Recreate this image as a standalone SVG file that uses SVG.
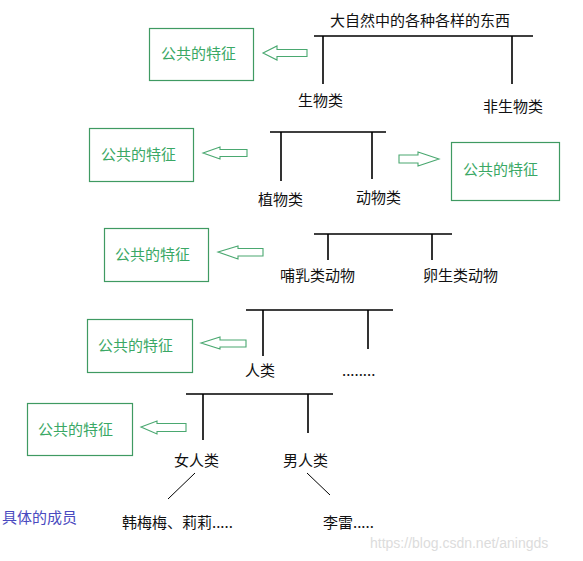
<svg xmlns="http://www.w3.org/2000/svg" width="583" height="561" viewBox="0 0 583 561">
<style>
text{font-family:"Noto Sans CJK SC","Noto Sans",sans-serif;font-size:15px;fill:#111}
.g{fill:#3aa865}
.box{fill:#fff;stroke:#3f9a62;stroke-width:1.2}
.arr{fill:#fff;stroke:#4aa870;stroke-width:1.1}
.ln{stroke:#000;stroke-width:1.6;fill:none}
.thin{stroke:#000;stroke-width:1;fill:none}
.blue{fill:#4a4ac0}
.wm{font-family:"Liberation Sans",Arial,sans-serif;font-size:14px;fill:#dcdcdc}
</style>
<rect width="583" height="561" fill="#fff"/>

<g id="connectors">
  <path class="ln" d="M314 36H533M323 36V84M512 36V84"/>
  <path class="ln" d="M270 132H386M281 132V181M372 132V179"/>
  <path class="ln" d="M314 234H452M328 234V260M432 234V260"/>
  <path class="ln" d="M246 310H393M263 310V356M368 310V349"/>
  <path class="ln" d="M186 394H333M203 394V440M308 394V433"/>
  <path class="thin" d="M195 473L168 499M307 473L330 495"/>
  <polygon class="arr" points="263,53 277,46 277,49.5 307,49.5 307,56.5 277,56.5 277,60"/>
  <polygon class="arr" points="203,153 220,147 220,149.5 247,149.5 247,156.5 220,156.5 220,159"/>
  <polygon class="arr" points="439,159 418,152 418,155 399,155 399,163 418,163 418,166"/>
  <polygon class="arr" points="218,252 238,246 238,248.5 263,248.5 263,256 238,256 238,259"/>
  <polygon class="arr" points="201,343 220,337 220,340 246,340 246,347 220,347 220,349"/>
  <polygon class="arr" points="141,427 157,421 157,423.5 186,423.5 186,431.5 157,431.5 157,434"/>
</g>

<g id="root"><text x="330" y="26">大自然中的各种各样的东西</text></g>
<g id="feat1"><rect class="box" x="149.5" y="28.5" width="104" height="52"/><text class="g" x="161" y="58.5">公共的特征</text></g>
<g id="living"><text x="298" y="106">生物类</text></g>
<g id="nonliving"><text x="483" y="112">非生物类</text></g>

<g id="feat2"><rect class="box" x="89.5" y="128.5" width="104" height="53"/><text class="g" x="101" y="159.5">公共的特征</text></g>
<g id="feat2b"><rect class="box" x="451.5" y="142.5" width="108" height="58"/><text class="g" x="463" y="174.5">公共的特征</text></g>
<g id="plants"><text x="258" y="204.5">植物类</text></g>
<g id="animals"><text x="356" y="202.5">动物类</text></g>

<g id="feat3"><rect class="box" x="104.5" y="228.5" width="104" height="53"/><text class="g" x="115" y="259.5">公共的特征</text></g>
<g id="mammals"><text x="280" y="280.5">哺乳类动物</text></g>
<g id="oviparous"><text x="423" y="280.5">卵生类动物</text></g>

<g id="feat4"><rect class="box" x="87.5" y="319.5" width="105" height="53"/><text class="g" x="98" y="350.5">公共的特征</text></g>
<g id="human"><text x="245" y="375.5">人类</text></g>
<g id="others"><text x="342" y="376">........</text></g>

<g id="feat5"><rect class="box" x="27.5" y="403.5" width="105" height="52"/><text class="g" x="38" y="434.5">公共的特征</text></g>
<g id="women"><text x="174" y="465.5">女人类</text></g>
<g id="men"><text x="283" y="465.5">男人类</text></g>
<g id="members-label"><text class="blue" x="2" y="522.5">具体的成员</text></g>
<g id="women-members"><text x="122" y="527.5">韩梅梅、莉莉.....</text></g>
<g id="men-members"><text x="323" y="527.5">李雷.....</text></g>
<text class="wm" x="370" y="548">https://blog.csdn.net/aningds</text>
</svg>
